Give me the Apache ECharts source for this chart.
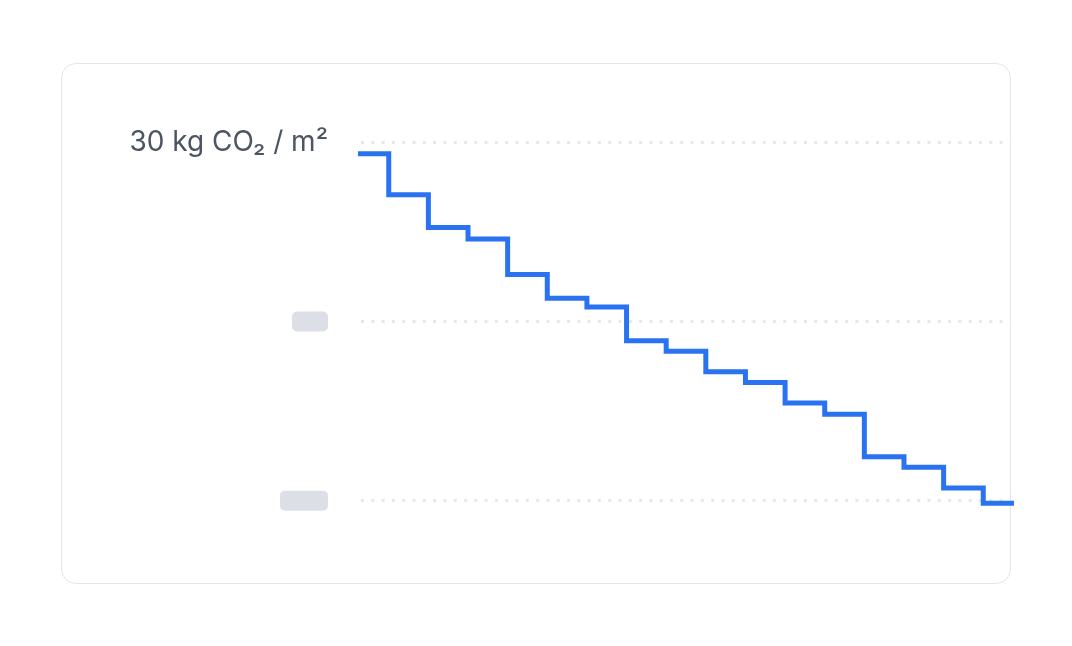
<!DOCTYPE html>
<html>
<head>
<meta charset="utf-8">
<script src="https://cdn.jsdelivr.net/npm/echarts@6/dist/echarts.min.js"></script>
<style>
  html, body { margin: 0; padding: 0; background: #ffffff; }
  #wrap { position: relative; width: 1072px; height: 646px; overflow: hidden; }
  #card { position: absolute; left: 61px; top: 63px; width: 950px; height: 521px; box-sizing: border-box;
          border: 1px solid #e3e5e9; border-radius: 15px; background: #ffffff; }
  #chart { position: absolute; left: 0; top: 0; width: 1072px; height: 720px; }
</style>
</head>
<body>
<div id="wrap">
  <div id="card"></div>
  <div id="chart"></div>
</div>
<script>
// Period index (each level starts at that period) and emission level, kg CO2 / m2
const periods = [0, 1, 2, 3, 4, 5, 6, 7, 8, 9, 10, 11, 12, 13, 14, 15, 16, 17];
const levels = [29.37, 27.08, 25.25, 24.61, 22.63, 21.30, 20.81, 18.93, 18.34, 17.20,
                16.60, 15.45, 14.83, 12.45, 11.86, 10.70, 9.86, 9.86];
// Y tick labels: only the top one is real text, the others are skeleton placeholders
const tickValues = [0, 10, 20, 30];
const tickLabels = ['', '{ph10|}', '{ph20|}', '30 kg CO\u2082 / m\u00B2'];

const chart = echarts.init(document.getElementById('chart'), null, { renderer: 'canvas' });
chart.setOption({
  backgroundColor: 'transparent',
  animation: false,
  grid: { left: 361, right: 61, top: 142.5, bottom: 40.3 },
  xAxis: {
    type: 'value', min: 0.3, max: 16.7,
    show: false
  },
  yAxis: {
    type: 'value', min: 0, max: 30, interval: 10,
    axisLine: { show: false }, axisTick: { show: false },
    axisLabel: {
      margin: 33,
      fontFamily: 'Inter', fontSize: 28, color: '#4b5563',
      formatter: function (v) { const i = tickValues.indexOf(v); return i >= 0 ? tickLabels[i] : ''; },
      rich: {
        ph20: { width: 36, height: 20, backgroundColor: '#dcdfe5', borderRadius: 5 },
        ph10: { width: 48, height: 20, backgroundColor: '#dcdfe5', borderRadius: 5 }
      }
    },
    splitLine: { show: true, lineStyle: { color: '#e6e8ec', width: 3, type: [3, 7.3] } }
  },
  series: [{
    type: 'line',
    step: 'end',
    showSymbol: false,
    symbol: 'none',
    clip: true,
    lineStyle: { color: '#2a73f0', width: 5, join: 'miter', cap: 'butt' },
    data: periods.map((p, i) => [p, levels[i]])
  }]
});
</script>
</body>
</html>
